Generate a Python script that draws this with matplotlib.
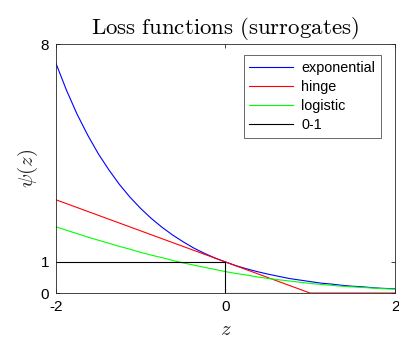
import matplotlib.pyplot as plt

plt.rcParams['font.family'] = ['Liberation Sans', 'DejaVu Sans']
plt.rcParams['mathtext.fontset'] = 'cm'

# values
z = [-2.0, -1.875, -1.75, -1.625, -1.5, -1.375, -1.25, -1.125, -1.0,
     -0.875, -0.75, -0.625, -0.5, -0.375, -0.25, -0.125, 0.0,
     0.125, 0.25, 0.375, 0.5, 0.625, 0.75, 0.875, 1.0,
     1.125, 1.25, 1.375, 1.5, 1.625, 1.75, 1.875, 2.0]
exponential = [7.39, 6.52, 5.75, 5.08, 4.48, 3.96, 3.49, 3.08, 2.72,
               2.40, 2.12, 1.87, 1.65, 1.45, 1.28, 1.13, 1.0,
               0.88, 0.78, 0.69, 0.61, 0.54, 0.47, 0.42, 0.37,
               0.32, 0.29, 0.25, 0.22, 0.20, 0.17, 0.15, 0.14]
logistic = [2.13, 2.02, 1.91, 1.80, 1.70, 1.60, 1.50, 1.41, 1.31,
            1.22, 1.14, 1.05, 0.97, 0.90, 0.83, 0.76, 0.69,
            0.63, 0.58, 0.52, 0.47, 0.43, 0.39, 0.35, 0.31,
            0.28, 0.25, 0.22, 0.20, 0.18, 0.16, 0.14, 0.13]
hinge_z = [-2.0, 1.0, 2.0]
hinge = [3.0, 0.0, 0.0]
zero_one_z = [-2.0, 0.0, 0.0, 2.0]
zero_one = [1.0, 1.0, 0.0, 0.0]

xticks = [-2, 0, 2]
yticks = [0, 1, 8]

fig = plt.figure(figsize=(3.99, 3.42), dpi=100)
ax = fig.add_axes([0.140, 0.143, 0.850, 0.728])

ax.plot(z, exponential, color='blue', lw=0.8, label='exponential')
ax.plot(hinge_z, hinge, color='red', lw=0.8, label='hinge')
ax.plot(z, logistic, color='#00ff00', lw=0.8, label='logistic')
ax.plot(zero_one_z, zero_one, color='black', lw=0.8, label='0-1')

ax.set_xlim(-2, 2)
ax.set_ylim(0, 8)
ax.set_xticks(xticks)
ax.set_yticks(yticks)
ax.set_xticklabels(['-2', '0', '2'])
ax.tick_params(direction='in', top=True, right=True, length=3, width=0.6,
               labelsize=11, colors='#262626', labelcolor='black', pad=5)
for s in ax.spines.values():
    s.set_linewidth(0.6)
    s.set_color('#262626')

ax.set_title(r'$\mathrm{Loss\ functions\ (surrogates)}$', fontsize=16.5, pad=7)
ax.set_xlabel(r'$z$', fontsize=15, color='#262626')
ax.set_ylabel(r'$\psi(z)$', fontsize=15, color='#262626', labelpad=0)

leg = ax.legend(loc='upper right', fontsize=10.4, frameon=True, fancybox=False,
                borderpad=0.4, handlelength=3.0, labelspacing=0.36,
                handletextpad=0.6, borderaxespad=0,
                bbox_to_anchor=(0.959, 0.956))
leg.get_frame().set_edgecolor('#262626')
leg.get_frame().set_linewidth(0.6)

plt.savefig('out.png', dpi=100)
